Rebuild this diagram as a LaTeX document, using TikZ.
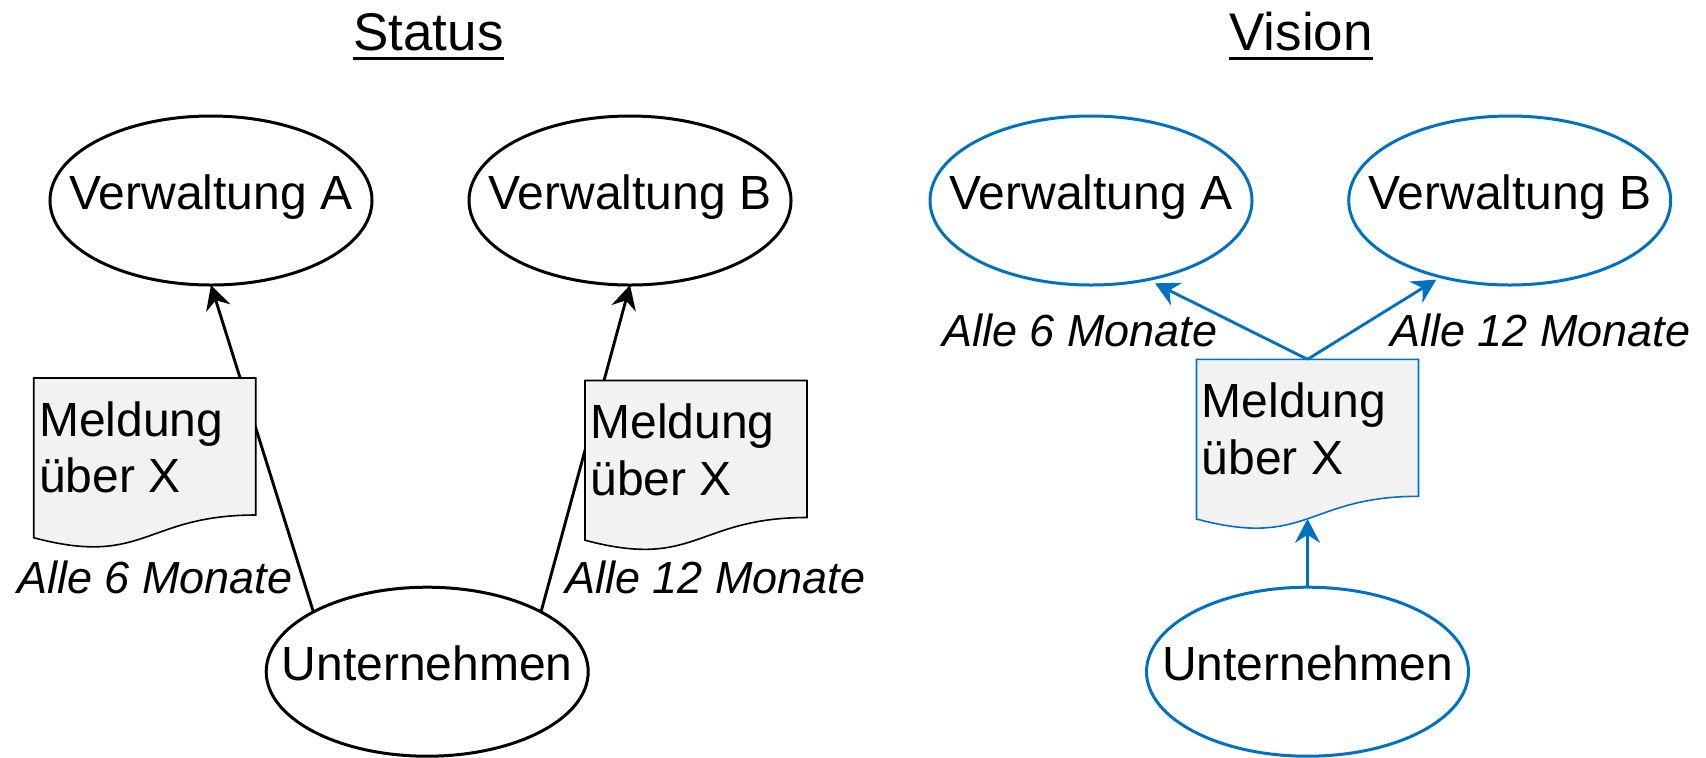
\documentclass[tikz,border=0pt]{standalone}
\usepackage{fontspec}
\setmainfont{Liberation Sans}
\usetikzlibrary{arrows.meta,calc,shapes.geometric}
\definecolor{pblue}{RGB}{0,112,192}
\definecolor{docfill}{RGB}{242,242,242}
\newcommand\mydocshape[2]{%
  \filldraw[fill=docfill, draw=#2, line width=0.8pt, line join=miter]
    (#1.north west) -- (#1.north east) -- ($(#1.north east)+(0,137)$)
    .. controls ($(#1.north)+(0,137)$) and ($(#1.north)+(0,189.4)$) ..
    ($(#1.north west)+(0,159.7)$) -- cycle;}
\begin{document}
\begin{tikzpicture}[x=0.5pt,y=-0.5pt,
  ell/.style={ellipse, draw=#1, line width=1.5pt, minimum width=161pt, minimum height=84.5pt, inner sep=0pt, outer sep=0pt, fill=white},
  ell/.default=black,
  etext/.style={font=\fontsize{24}{28}\selectfont, inner sep=0pt, anchor=base},
  dtext/.style={font=\fontsize{24}{28}\selectfont, inner sep=0pt, anchor=base west},
  tit/.style={font=\fontsize{26.5}{30}\selectfont, inner sep=0pt, anchor=base},
  uline/.style={line width=1.65pt},
  lab/.style={font=\fontsize{22.5}{27}\selectfont\itshape, inner sep=0pt, anchor=base west},
  docframe/.style={rectangle, minimum width=111pt, minimum height=85.5pt, inner sep=0pt, outer sep=0pt, anchor=north west},
  conn/.style={draw=#1, line width=1.45pt, -{Stealth[length=12pt,width=12.5pt,inset=4pt]}},
  conn/.default=black
]
\useasboundingbox (0,0) rectangle (1706,757);

% ---------- titles
\node[tit] (tS) at (428.5,50) {Status};
\draw[uline] ($(tS.base west)+(0,8.5)$) -- ($(tS.base east)+(0,8.5)$);
\node[tit] (tV) at (1301.2,50) {Vision};
\draw[uline] ($(tV.base west)+(0,8.5)$) -- ($(tV.base east)+(0,8.5)$);

% ---------- Status panel
\node[ell] (sA) at (211,200.5) {};
\node[etext] (sAt) at ($(sA.center)+(0,9)$) {Verwaltung A};
\node[ell] (sB) at (630,200.5) {};
\node[etext] (sBt) at ($(sB.center)+(0,9)$) {Verwaltung B};
\node[ell] (sU) at (427.2,671.7) {};
\node[etext] (sUt) at ($(sU.center)+(0,9)$) {Unternehmen};
\coordinate (sUnw) at ($(sU.center)+(-113.8,-59.75)$);
\coordinate (sUne) at ($(sU.center)+(113.8,-59.75)$);
\draw[conn] (sUnw) -- (sA.south);
\draw[conn] (sUne) -- (sB.south);

\node[docframe] (sM1) at (33.7,378) {};
\mydocshape{sM1}{black}
\node[dtext] (sM1a) at ($(sM1.north west)+(5,58)$) {Meldung};
\node[dtext] (sM1b) at ($(sM1.north west)+(5,114.7)$) {über X};

\node[docframe] (sM2) at (585,380.5) {};
\mydocshape{sM2}{black}
\node[dtext] (sM2a) at ($(sM2.north west)+(5,58)$) {Meldung};
\node[dtext] (sM2b) at ($(sM2.north west)+(5,114.7)$) {über X};

\node[lab] (sL1) at (17,593.7) {Alle 6 Monate};
\node[lab] (sL2) at (565,593.7) {Alle 12 Monate};

% ---------- Vision panel
\node[ell=pblue] (vA) at (1091,200.5) {};
\node[etext] (vAt) at ($(vA.center)+(0,9)$) {Verwaltung A};
\node[ell=pblue] (vB) at (1509.7,200.5) {};
\node[etext] (vBt) at ($(vB.center)+(0,9)$) {Verwaltung B};
\node[ell=pblue] (vU) at (1307.5,671.7) {};
\node[etext] (vUt) at ($(vU.center)+(0,9)$) {Unternehmen};

\node[docframe] (vM) at (1196.5,359.3) {};
\mydocshape{vM}{pblue}
\node[dtext] (vMa) at ($(vM.north west)+(5,58)$) {Meldung};
\node[dtext] (vMb) at ($(vM.north west)+(5,114.7)$) {über X};

\coordinate (vMbot) at ($(vM.north)+(0,159.5)$);
\coordinate (vAend) at ($(vA.center)+(64,82.8)$);
\coordinate (vBend) at ($(vB.center)+(-73.4,79.1)$);
\draw[conn=pblue] (vM.north) -- (vAend);
\draw[conn=pblue] (vM.north) -- (vBend);
\draw[conn=pblue] (vU.north) -- (vMbot);

\node[lab] (vL1) at (942,346.7) {Alle 6 Monate};
\node[lab] (vL2) at (1390,346.7) {Alle 12 Monate};
\end{tikzpicture}
\end{document}
